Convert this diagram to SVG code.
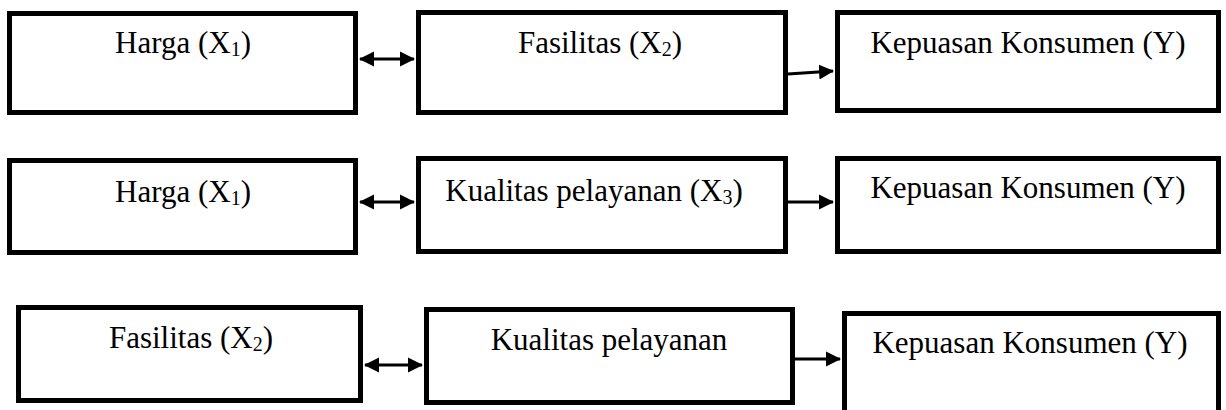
<svg xmlns="http://www.w3.org/2000/svg" width="1226" height="410" viewBox="0 0 1226 410">
<style>
.box{fill:#fff;stroke:#000;stroke-width:5}
.lbl{font-size:31px;fill:#000;text-anchor:middle}
.sub{font-size:20px}
.c{stroke:#000;stroke-width:3;fill:none}
.one{marker-end:url(#ah)}
.two{marker-start:url(#ah);marker-end:url(#ah)}
</style>
<defs>
<marker id="ah" markerUnits="userSpaceOnUse" markerWidth="16" markerHeight="16" refX="14" refY="8" orient="auto-start-reverse">
<path d="M0,0.5 L15,8 L0,15.5 z" fill="#000"/>
</marker>
</defs>
<rect width="1226" height="410" fill="#fff"/>
<g id="connectors">
<line class="c two" x1="360" y1="59" x2="414" y2="59"/>
<line class="c one" x1="788" y1="74" x2="833" y2="71"/>
<line class="c two" x1="360" y1="202" x2="414" y2="202"/>
<line class="c one" x1="788" y1="202" x2="833" y2="202"/>
<line class="c two" x1="365" y1="365" x2="422" y2="365"/>
<line class="c one" x1="795" y1="359" x2="840" y2="359"/>
</g>
<g font-family="Liberation Serif, Times New Roman, Times, serif">
<g id="r1-harga">
<rect class="box" x="9.5" y="13.5" width="346" height="99"/>
<text class="lbl" x="183" y="53">Harga (X<tspan class="sub" dy="3">1</tspan><tspan dy="-3">)</tspan></text>
</g>
<g id="r1-fasilitas">
<rect class="box" x="418.5" y="12.5" width="367" height="100"/>
<text class="lbl" x="600" y="53">Fasilitas (X<tspan class="sub" dy="3">2</tspan><tspan dy="-3">)</tspan></text>
</g>
<g id="r1-kepuasan">
<rect class="box" x="837.5" y="12.5" width="381" height="98"/>
<text class="lbl" x="1028" y="53">Kepuasan Konsumen (Y)</text>
</g>
<g id="r2-harga">
<rect class="box" x="9.5" y="160.5" width="346" height="92"/>
<text class="lbl" x="183" y="202">Harga (X<tspan class="sub" dy="3">1</tspan><tspan dy="-3">)</tspan></text>
</g>
<g id="r2-kualitas">
<rect class="box" x="418.5" y="158.5" width="367" height="93"/>
<text class="lbl" x="594" y="201">Kualitas pelayanan (X<tspan class="sub" dy="3">3</tspan><tspan dy="-3">)</tspan></text>
</g>
<g id="r2-kepuasan">
<rect class="box" x="837.5" y="158.5" width="381" height="93"/>
<text class="lbl" x="1028" y="198">Kepuasan Konsumen (Y)</text>
</g>
<g id="r3-fasilitas">
<rect class="box" x="18.5" y="307.5" width="342" height="93"/>
<text class="lbl" x="191" y="348">Fasilitas (X<tspan class="sub" dy="3">2</tspan><tspan dy="-3">)</tspan></text>
</g>
<g id="r3-kualitas">
<rect class="box" x="426.5" y="309.5" width="366" height="93"/>
<text class="lbl" x="609" y="350">Kualitas pelayanan</text>
</g>
<g id="r3-kepuasan">
<rect class="box" x="844.5" y="313.5" width="374" height="110"/>
<text class="lbl" x="1030" y="353">Kepuasan Konsumen (Y)</text>
</g>
</g>
</svg>
